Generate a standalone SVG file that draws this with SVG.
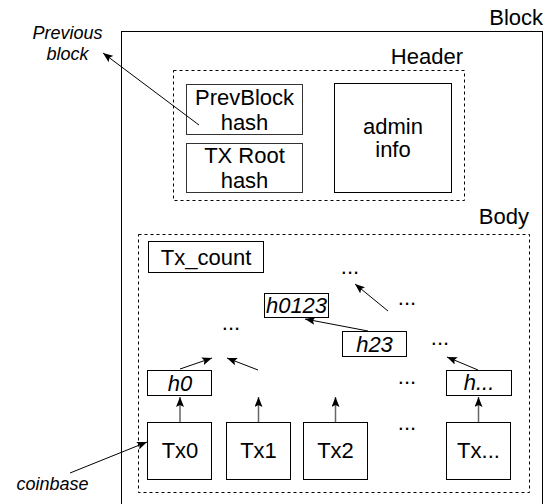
<svg xmlns="http://www.w3.org/2000/svg" width="553" height="504" viewBox="0 0 553 504">
<style>
.t{font-family:"Liberation Sans",Arial,sans-serif;font-size:22px;fill:#000;text-anchor:middle}
.i{font-style:italic}
.s{font-size:18px}
.box{fill:#fff;stroke:#000;stroke-width:1}
.dash{fill:none;stroke:#000;stroke-width:1;stroke-dasharray:3 3}
.ln{fill:none;stroke:#000;stroke-width:1}
.gl{fill:none;stroke:#666;stroke-width:1.5}
</style>
<defs>
<marker id="ah" viewBox="0 0 10 8" refX="10" refY="4" markerWidth="10" markerHeight="8" markerUnits="userSpaceOnUse" orient="auto">
<path d="M0,0 L10,4 L0,8 L2,4 Z" fill="#000"/>
</marker>
</defs>
<rect width="553" height="504" fill="#fff"/>
<g id="block">
<rect x="121.5" y="31.5" width="421" height="480" class="ln"/>
<text class="t" x="543" y="25" style="text-anchor:end">Block</text>
</g>
<g id="header">
<rect x="173.5" y="70.5" width="291" height="130" class="dash"/>
<text class="t" x="463" y="64" style="text-anchor:end">Header</text>
</g>
<g id="prevblock">
<rect x="186.5" y="84.5" width="116" height="50" class="box" style="stroke:#333"/>
<text class="t" x="244.5" y="105">PrevBlock</text>
<text class="t" x="244.5" y="130">hash</text>
</g>
<g id="txroot">
<rect x="186.5" y="143.5" width="116" height="49" class="box" style="stroke:#333"/>
<text class="t" x="244.5" y="163">TX Root</text>
<text class="t" x="244.5" y="188">hash</text>
</g>
<g id="admin">
<rect x="334.5" y="83.5" width="117" height="109" class="box"/>
<text class="t" x="393" y="134">admin</text>
<text class="t" x="393" y="157">info</text>
</g>
<g id="prevlabel">
<text class="t i s" x="67.5" y="39">Previous</text>
<text class="t i s" x="67.5" y="60">block</text>
</g>
<g id="body">
<rect x="138.5" y="234.5" width="391" height="258" class="dash"/>
<text class="t" x="529" y="224" style="text-anchor:end">Body</text>
</g>
<g id="txcount">
<rect x="148.5" y="241.5" width="115" height="31" class="box"/>
<text class="t" x="206" y="265">Tx_count</text>
</g>
<g id="h0123">
<rect x="264.5" y="293.5" width="64" height="24" class="box"/>
<text class="t i" x="296.5" y="313">h0123</text>
</g>
<g id="h23">
<rect x="342.5" y="331.5" width="64" height="25" class="box"/>
<text class="t i" x="374.5" y="352">h23</text>
</g>
<g id="h0">
<rect x="147.5" y="370.5" width="64" height="25" class="box"/>
<text class="t i" x="180" y="391">h0</text>
</g>
<g id="hdots">
<rect x="446.5" y="370.5" width="65" height="25" class="box"/>
<text class="t i" x="479" y="390">h...</text>
</g>
<g id="tx0">
<rect x="147.5" y="422.5" width="64" height="57" class="box"/>
<text class="t" x="180" y="457.5">Tx0</text>
</g>
<g id="tx1">
<rect x="226.5" y="422.5" width="64" height="57" class="box"/>
<text class="t" x="258.5" y="457.5">Tx1</text>
</g>
<g id="tx2">
<rect x="303.5" y="422.5" width="64" height="57" class="box"/>
<text class="t" x="335.5" y="457.5">Tx2</text>
</g>
<g id="txdots">
<rect x="446.5" y="422.5" width="64" height="57" class="box"/>
<text class="t" x="478.5" y="457.5">Tx...</text>
</g>
<g id="coinbase">
<text class="t i s" x="52.5" y="490">coinbase</text>
</g>
<g id="ellipses">
<text class="t" x="350" y="274">...</text>
<text class="t" x="407" y="305">...</text>
<text class="t" x="440" y="345">...</text>
<text class="t" x="231" y="330">...</text>
<text class="t" x="407" y="384">...</text>
<text class="t" x="407" y="430">...</text>
</g>
<g id="connectors">
<line x1="199" y1="125" x2="103" y2="53" class="ln" marker-end="url(#ah)"/>
<line x1="70" y1="473" x2="147" y2="442" class="ln" marker-end="url(#ah)"/>
<line x1="180" y1="422" x2="180" y2="397" class="gl" marker-end="url(#ah)"/>
<line x1="258.5" y1="422" x2="258.5" y2="397" class="gl" marker-end="url(#ah)"/>
<line x1="335.5" y1="422" x2="335.5" y2="397" class="gl" marker-end="url(#ah)"/>
<line x1="478.5" y1="422" x2="478.5" y2="397" class="gl" marker-end="url(#ah)"/>
<line x1="180" y1="369" x2="212" y2="358" class="ln" marker-end="url(#ah)"/>
<line x1="258" y1="370" x2="227" y2="358" class="ln" marker-end="url(#ah)"/>
<line x1="368" y1="331" x2="305" y2="319" class="ln" marker-end="url(#ah)"/>
<line x1="388" y1="311" x2="355" y2="284" class="ln" marker-end="url(#ah)"/>
<line x1="478" y1="370" x2="447" y2="357" class="ln" marker-end="url(#ah)"/>
</g>
</svg>
